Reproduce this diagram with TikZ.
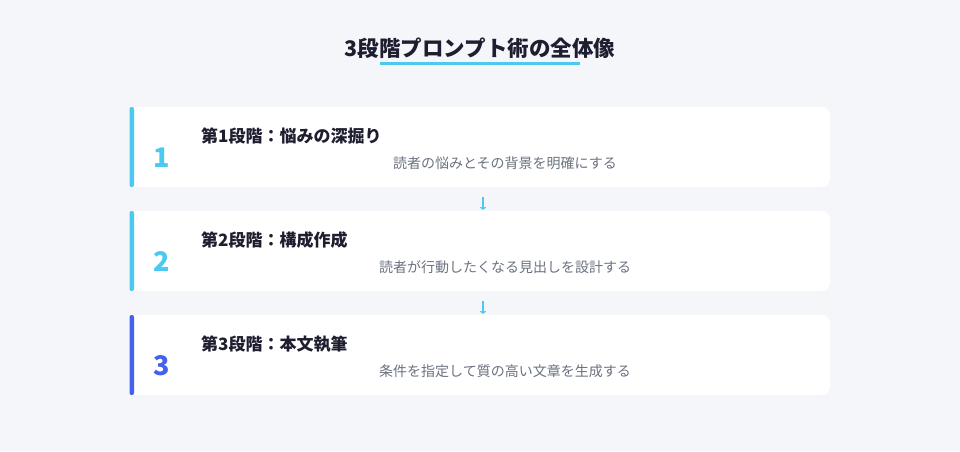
\documentclass[tikz,border=0pt]{standalone}
\usepackage{fontspec}
\setmainfont{Noto Sans CJK JP}
\usepackage{xcolor}
\usetikzlibrary{arrows.meta,positioning}

\definecolor{bgc}{HTML}{F5F6FA}
\definecolor{darkc}{HTML}{1E1E30}
\definecolor{grayc}{HTML}{6B7280}
\definecolor{cyanc}{HTML}{4CC9F0}
\definecolor{bluec}{HTML}{4361EE}

\tikzset{
  card/.style={fill=white,rounded corners=8pt,minimum width=700pt,minimum height=80pt,inner sep=0pt},
  stepnum/.style={font=\fontsize{27}{31}\selectfont\bfseries},
  steptitle/.style={anchor=west,inner sep=0pt,text=darkc,font=\fontsize{17}{20}\selectfont\bfseries},
  stepdesc/.style={inner sep=0pt,text=grayc,font=\fontsize{14}{17}\selectfont},
  arr/.style={cyanc,line width=1.1pt,-{To[length=3pt,width=6pt]}}
}

\begin{document}
\begin{tikzpicture}[x=1pt,y=-1pt]
            \fill[bgc] (0,0) rectangle (960,451);
            \useasboundingbox (0,0) rectangle (960,451);

            % title
            \node[text=darkc,font=\fontsize{21.5}{25}\selectfont\bfseries] (head) at (480,48) {3段階プロンプト術の全体像};
            \draw[cyanc,line width=3pt] (380,63)--(580,63);

            % cards
            \node[card] (card1) at (480,147) {};
            \node[card] (card2) at (480,251) {};
            \node[card] (card3) at (480,355) {};
            \fill[cyanc,rounded corners=2pt] (129.5,107)--(134,107)--(134,187)--(129.5,187)--cycle;
            \fill[cyanc,rounded corners=2pt] (129.5,211)--(134,211)--(134,291)--(129.5,291)--cycle;
            \fill[bluec,rounded corners=2pt] (129.5,315)--(134,315)--(134,395)--(129.5,395)--cycle;

            % step 1
            \node[stepnum,text=cyanc] (num1) at (162,158) {1};
            \node[steptitle] (title1) at (201,136) {第1段階：悩みの深掘り};
            \node[stepdesc] (desc1) at (505,163) {読者の悩みとその背景を明確にする};

            % step 2
            \node[stepnum,text=cyanc] (num2) at (162,262) {2};
            \node[steptitle] (title2) at (201,240) {第2段階：構成作成};
            \node[stepdesc] (desc2) at (505,267) {読者が行動したくなる見出しを設計する};

            % step 3
            \node[stepnum,text=bluec] (num3) at (162,366) {3};
            \node[steptitle] (title3) at (201,344) {第3段階：本文執筆};
            \node[stepdesc] (desc3) at (505,371) {条件を指定して質の高い文章を生成する};

            \draw[arr] ([xshift=3pt,yshift=-10pt]card1.south)--([xshift=3pt,yshift=1pt]card2.north);
            \draw[arr] ([xshift=3pt,yshift=-10pt]card2.south)--([xshift=3pt,yshift=1pt]card3.north);
        \end{tikzpicture}
\end{document}
